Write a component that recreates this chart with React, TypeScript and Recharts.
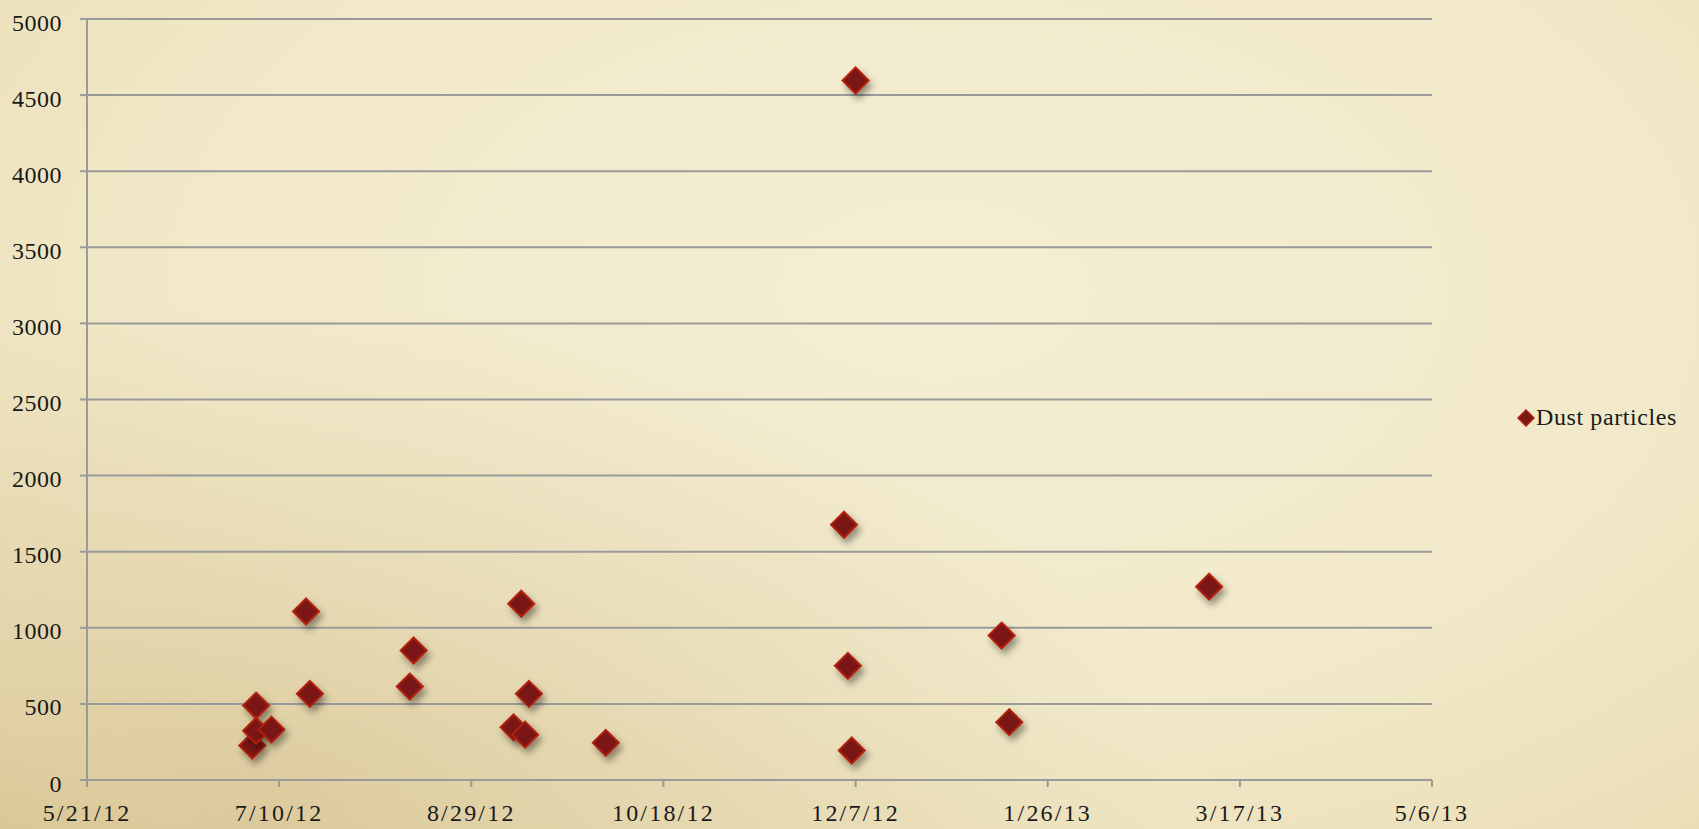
import { ScatterChart, Scatter, XAxis, YAxis, CartesianGrid, Legend } from "recharts";

// sample dates and dust particle counts
const sampleDates = [
  "2012-07-03", "2012-07-04", "2012-07-04", "2012-07-08", "2012-07-17",
  "2012-07-18", "2012-08-13", "2012-08-14", "2012-09-09", "2012-09-11",
  "2012-09-12", "2012-09-13", "2012-10-03", "2012-12-04", "2012-12-05",
  "2012-12-06", "2012-12-07", "2013-01-14", "2013-01-16", "2013-03-09",
];
const dustParticles = [
  226, 489, 324, 331, 1107,
  566, 614, 851, 346, 1158,
  298, 566, 244, 1677, 750,
  194, 4596, 949, 380, 1270,
];

const xTickDates = [
  "2012-05-21", "2012-07-10", "2012-08-29", "2012-10-18",
  "2012-12-07", "2013-01-26", "2013-03-17", "2013-05-06",
];
const yTicks = [0, 500, 1000, 1500, 2000, 2500, 3000, 3500, 4000, 4500, 5000];

const SERIES_NAME = "Dust particles";
const FONT = "'Liberation Serif', 'Times New Roman', serif";
const GRID = "#9a9a9a";
const MARK_FILL = "#7a1913";
const MARK_STROKE = "#b3200f";

const toTime = (s: string) => new Date(s).getTime();
const xTicks = xTickDates.map(toTime);

const data = sampleDates.map((d, i) => ({ date: toTime(d), value: dustParticles[i] }));

const formatDate = (v: number) => {
  const d = new Date(v);
  return `${d.getUTCMonth() + 1}/${d.getUTCDate()}/${String(d.getUTCFullYear()).slice(2)}`;
};

function Diamond(props: any) {
  const { cx, cy } = props;
  const r = 13;
  return (
    <polygon
      points={`${cx},${cy - r} ${cx + r},${cy} ${cx},${cy + r} ${cx - r},${cy}`}
      fill={MARK_FILL}
      stroke={MARK_STROKE}
      strokeWidth={2}
      filter="url(#markShadow)"
    />
  );
}

function LegendContent() {
  return (
    <div
      style={{
        display: "flex",
        alignItems: "center",
        fontFamily: FONT,
        fontSize: 24,
        letterSpacing: 0.6,
        color: "#1a1a1a",
      }}
    >
      <svg width={18} height={18} style={{ marginRight: 1 }}>
        <polygon points="9,1 17,9 9,17 1,9" fill={MARK_FILL} stroke={MARK_STROKE} strokeWidth={1.5} />
      </svg>
      <span>{SERIES_NAME}</span>
    </div>
  );
}

export default function App() {
  return (
    <div
      style={{
        position: "absolute",
        left: 0,
        top: 0,
        width: 1699,
        height: 829,
        overflow: "hidden",
        background:
          "radial-gradient(ellipse at 15% 100%, rgba(190,160,100,0.35) 0%, rgba(190,160,100,0) 45%), radial-gradient(ellipse at 55% 35%, #f4eed3 0%, #f1e9c9 55%, #ebdfb8 90%, #e4d5a8 100%)",
      }}
    >
      <ScatterChart width={1699} height={829} margin={{ top: 19, right: 267, bottom: 0, left: 0 }}>
        <defs>
          <filter id="markShadow" x="-60%" y="-60%" width="240%" height="240%">
            <feDropShadow dx={3} dy={5} stdDeviation={3.5} floodColor="#000" floodOpacity={0.4} />
          </filter>
        </defs>
        <CartesianGrid horizontal vertical={false} stroke={GRID} strokeWidth={2} />
        <XAxis
          type="number"
          dataKey="date"
          domain={[xTicks[0], xTicks[xTicks.length - 1]]}
          ticks={xTicks}
          tickFormatter={formatDate}
          height={49}
          axisLine={{ stroke: GRID, strokeWidth: 2 }}
          tickLine={{ stroke: GRID, strokeWidth: 2 }}
          tickSize={7}
          tickMargin={17}
          tick={{ fill: "#1a1a1a", fontSize: 24, fontFamily: FONT, letterSpacing: 2.2 }}
          interval={0}
        />
        <YAxis
          type="number"
          dataKey="value"
          domain={[0, 5000]}
          ticks={yTicks}
          width={87}
          axisLine={{ stroke: GRID, strokeWidth: 2 }}
          tickLine={{ stroke: GRID, strokeWidth: 2 }}
          tickSize={7}
          tickMargin={18}
          tick={{ fill: "#1a1a1a", fontSize: 24, fontFamily: FONT, letterSpacing: 0.5, dy: 3 }}
          interval={0}
        />
        <Legend
          layout="horizontal"
          verticalAlign="middle"
          align="center"
          content={<LegendContent />}
          wrapperStyle={{ left: 1517, top: 404, width: 200 }}
        />
        <Scatter name={SERIES_NAME} data={data} shape={<Diamond />} isAnimationActive={false} />
      </ScatterChart>
    </div>
  );
}
